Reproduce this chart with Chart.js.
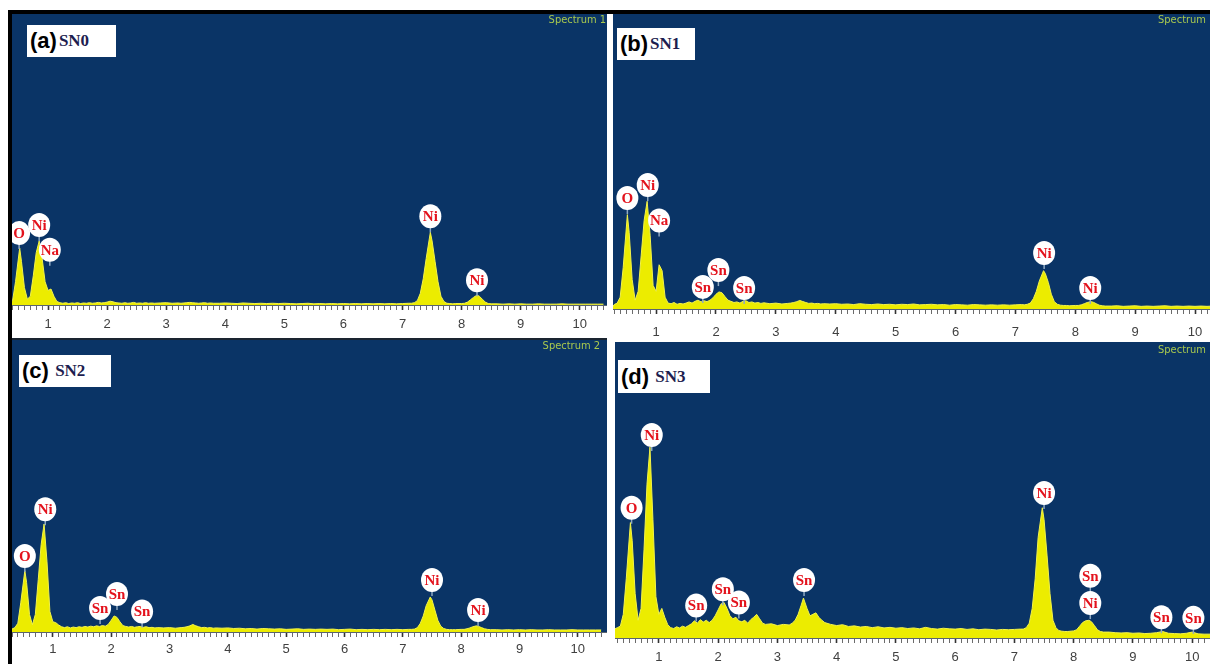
<!DOCTYPE html>
<html>
<head>
<meta charset="utf-8">
<title>EDX spectra SN0 - SN3</title>
<script src="https://cdn.jsdelivr.net/npm/chart.js@4.4.1/dist/chart.umd.min.js"></script>
<style>
  body { margin: 0; background: #fff; }
  #page { position: relative; width: 1210px; height: 664px; overflow: hidden; background: #fff; }
  canvas { position: absolute; display: block; }
  .bar { position: absolute; background: #000; }
  .tag { position: absolute; background: #fff; display: flex; align-items: center; box-sizing: border-box; padding-left: 3px; white-space: nowrap; }
  .tag b { font: bold 22px "Liberation Sans", Arial, sans-serif; color: #000; }
  .tag span { font: bold 17px "Liberation Serif", "Times New Roman", serif; color: #1d1d4f; margin-left: 2px; }
  .spec { position: absolute; width: 90px; text-align: right; font: 11px "Liberation Sans Narrow", "DejaVu Sans Condensed", sans-serif; color: #a9c94e; }
</style>
</head>
<body>
<div id="page">
  <canvas id="chartA" width="595" height="324" style="left:12px; top:14px"></canvas>
  <canvas id="chartB" width="597" height="328" style="left:613px; top:14px"></canvas>
  <canvas id="chartC" width="595" height="324" style="left:12px; top:340px"></canvas>
  <canvas id="chartD" width="595" height="322" style="left:615px; top:342px"></canvas>

  <div class="bar" style="left:8px; top:10px; width:1202px; height:4px"></div>
  <div class="bar" style="left:8px; top:10px; width:4px; height:654px"></div>
  <div class="bar" style="left:12px; top:338px; width:595px; height:2px; background:#1a2430"></div>

  <div class="tag" style="left:27px; top:25px; width:89px; height:32px"><b>(a)</b><span>SN0</span></div>
  <div class="tag" style="left:617px; top:28px; width:78px; height:32px"><b>(b)</b><span>SN1</span></div>
  <div class="tag" style="left:19px; top:355px; width:92px; height:32px"><b>(c)</b><span>&nbsp;SN2</span></div>
  <div class="tag" style="left:618px; top:360px; width:92px; height:33px"><b>(d)</b><span>&nbsp;SN3</span></div>

  <div class="spec" style="left:516px; top:13px">Spectrum 1</div>
  <div class="spec" style="left:1116px; top:13px">Spectrum</div>
  <div class="spec" style="left:510px; top:339px">Spectrum 2</div>
  <div class="spec" style="left:1116px; top:343px">Spectrum</div>
</div>

<script>
// energy axis (keV), shared by all four spectra
const energyKeV = [
  0.25, 0.30, 0.35, 0.40, 0.45,
  0.52, 0.55, 0.60, 0.65, 0.70, 0.75, 0.80, 0.85, 0.90, 0.95,
  1.00, 1.05, 1.10, 1.15, 1.20, 1.25, 1.30, 1.35, 1.40, 1.45, 1.50, 1.55, 1.60, 1.65, 1.70, 1.75, 1.80, 1.85, 1.90, 1.95,
  2.00, 2.05, 2.10, 2.15, 2.20, 2.25, 2.30, 2.35, 2.40, 2.45, 2.50, 2.55, 2.60, 2.65, 2.70, 2.75, 2.80,
  2.90, 3.00, 3.10, 3.20,
  3.25, 3.30, 3.35, 3.40, 3.44, 3.50, 3.55, 3.60, 3.65, 3.70, 3.75, 3.80,
  3.9, 4.0, 4.1, 4.2, 4.3, 4.4, 4.5, 4.6, 4.7, 4.8, 4.9, 5.0, 5.1, 5.2, 5.3, 5.4, 5.5, 5.6, 5.7, 5.8, 5.9, 6.0, 6.1, 6.2, 6.3, 6.4, 6.5, 6.6, 6.7, 6.8, 6.9, 7.0, 7.1,
  7.15, 7.20, 7.25, 7.30, 7.35, 7.40, 7.47, 7.50, 7.55, 7.60, 7.65, 7.70, 7.75, 7.80, 7.85,
  7.9, 8.0,
  8.05, 8.10, 8.15, 8.20, 8.26, 8.30, 8.35, 8.40, 8.45, 8.50,
  8.6, 8.7, 8.8, 8.9, 9.0, 9.1, 9.2, 9.3, 9.4, 9.5, 9.6, 9.7, 9.8, 9.9, 10.0, 10.1, 10.2, 10.3, 10.4
];

// counts, as % of the full-scale height of each panel
const countsSN0 = [
  0, 0, 0.5, 1.5, 8,
  19.6, 15, 6, 2, 3, 10, 18, 22, 16, 8,
  5, 5.5, 3, 1.2, 0.8, 0.6, 0.8, 0.5, 0.7, 0.6, 0.8, 0.5, 0.7, 0.6, 0.8, 0.6, 0.7, 0.9, 0.7, 0.8,
  1.0, 1.3, 1.1, 0.8, 0.7, 0.6, 0.8, 0.6, 0.7, 0.9, 0.6, 0.7, 0.6, 0.8, 0.6, 0.7, 0.6,
  0.7, 0.8, 0.6, 0.7,
  0.6, 0.7, 0.8, 0.9, 0.8, 0.7, 0.6, 0.7, 0.8, 0.6, 0.7, 0.6,
  0.6, 0.7, 0.6, 0.5, 0.7, 0.6, 0.5, 0.6, 0.5, 0.6, 0.5, 0.6, 0.5, 0.4, 0.5, 0.6, 0.4, 0.5, 0.4, 0.5, 0.4, 0.5, 0.4, 0.5, 0.4, 0.5, 0.4, 0.5, 0.4, 0.5, 0.4, 0.5, 0.6,
  0.6, 0.8, 1.5, 4, 9, 16, 25, 22, 15, 8, 3, 1.2, 0.6, 0.5, 0.4,
  0.5, 0.5,
  0.6, 1.0, 1.8, 2.6, 3.4, 3.0, 2.0, 1.0, 0.5, 0.4,
  0.4, 0.3, 0.4, 0.3, 0.4, 0.3, 0.3, 0.4, 0.3, 0.3, 0.3, 0.4, 0.3, 0.3, 0.3, 0.3, 0.3, 0.3, 0.3
];

const countsSN1 = [
  0, 1.5, 2, 4, 14,
  32, 26, 10, 3, 6, 18, 30, 36.5, 25, 8,
  6, 15, 13, 4, 2, 1.8, 2.2, 1.6, 1.9, 1.7, 2.0, 2.4, 2.0, 2.6, 3.0, 2.4, 2.8, 2.5, 3.0, 3.8,
  5.0, 5.8, 5.5, 4.2, 3.0, 2.6, 2.2, 2.4, 2.0, 2.6, 2.8, 2.2, 2.4, 2.0, 2.2, 1.9, 2.1,
  1.8, 2.0, 1.7, 1.9,
  2.0, 2.2, 2.5, 2.9, 2.6, 2.2, 1.9, 2.0, 1.8, 1.9, 1.7, 1.8,
  1.7, 1.8, 1.6, 1.7, 1.5, 1.8, 1.6, 1.5, 1.7, 1.5, 1.6, 1.4, 1.6, 1.5, 1.7, 1.4, 1.5, 1.6, 1.4, 1.5, 1.3, 1.5, 1.4, 1.3, 1.5, 1.4, 1.3, 1.4, 1.3, 1.4, 1.3, 1.4, 1.5,
  1.4, 1.6, 2.0, 3.5, 6, 9.5, 13, 12, 9, 5, 2.5, 1.6, 1.3, 1.2, 1.2,
  1.1, 1.2,
  1.2, 1.4, 1.8, 2.2, 2.5, 2.3, 1.8, 1.3, 1.1, 1.0,
  1.0, 1.1, 0.9, 1.0, 1.1, 0.9, 1.0, 0.9, 1.0, 1.1, 0.9, 1.0, 0.9, 1.0, 0.9, 1.0, 0.9, 1.0, 0.9
];

const countsSN2 = [
  0, 1, 1.5, 3, 10,
  21, 17, 6, 2.5, 6, 18, 30, 37, 24, 7,
  3.5, 3.2, 2.4, 1.8, 1.5, 1.8, 1.4, 1.7, 1.5, 1.8, 1.6, 1.9, 1.7, 2.0, 1.8, 2.1, 1.9, 2.2, 2.0, 2.6,
  4.0, 5.5, 5.0, 3.5, 2.2, 1.9, 1.7, 1.9, 1.6, 1.8, 1.9, 1.6, 1.8, 1.5, 1.6, 1.4, 1.5,
  1.4, 1.5, 1.3, 1.5,
  1.6, 1.8, 2.1, 2.6, 2.2, 1.8, 1.5, 1.6, 1.4, 1.5, 1.3, 1.4,
  1.3, 1.4, 1.2, 1.3, 1.1, 1.2, 1.0, 1.2, 1.1, 1.0, 1.1, 0.9, 1.0, 1.1, 0.9, 1.0, 0.9, 1.0, 0.9, 1.0, 0.8, 0.9, 1.0, 0.8, 0.9, 0.8, 0.9, 0.8, 0.9, 0.8, 0.9, 0.8, 0.9,
  0.9, 1.0, 1.5, 3.0, 5.5, 9, 12, 11, 7.5, 4, 2, 1.2, 0.9, 0.8, 0.8,
  0.8, 0.9,
  0.9, 1.1, 1.4, 1.8, 2.1, 1.9, 1.5, 1.1, 0.9, 0.8,
  0.8, 0.7, 0.8, 0.7, 0.8, 0.7, 0.8, 0.7, 0.7, 0.8, 0.7, 0.7, 0.7, 0.8, 0.7, 0.7, 0.7, 0.7, 0.7
];

const countsSN3 = [
  3, 3.5, 4, 8, 20,
  39, 33, 15, 6, 10, 30, 52, 64.5, 40, 14,
  8, 10, 7, 4.5, 3.5, 3.2, 3.8, 3.4, 4.0, 3.6, 4.2, 4.8, 5.8, 5.0, 6.2, 5.4, 6.0, 5.2, 6.0, 7.5,
  9.5, 11.5, 12, 10, 7.5, 6.5, 7.0, 5.8, 5.5, 6.0, 5.0, 6.2, 7.0, 8.0, 6.5, 5.0, 4.6,
  4.8, 4.2, 4.6, 4.4,
  5.0, 6.0, 8.0, 11.0, 13.5, 10.0, 7.5, 8.0, 8.5, 7.0, 6.0, 5.2,
  4.6, 4.2, 4.5, 3.9, 4.1, 3.7, 3.9, 3.5, 3.8, 3.4, 3.6, 3.3, 3.5, 3.2, 3.4, 3.1, 3.6, 3.2, 3.0, 3.3, 3.1, 3.0, 3.2, 2.9, 3.1, 2.8, 3.0, 2.9, 2.7, 2.9, 2.8, 2.9, 3.0,
  3.0, 3.5, 5, 10, 20, 34, 44, 40, 28, 15, 6, 3.5, 2.5, 2.3, 2.2,
  2.2, 2.4,
  2.8, 4, 5.2, 5.8, 6, 5.5, 4.2, 2.8, 2.2, 2.0,
  2.0, 1.8, 1.7, 1.8, 1.6, 1.7, 1.5, 1.6, 1.8, 2.2, 1.6, 1.5, 1.4, 1.6, 2.0, 1.4, 1.3, 1.3, 1.2
];

// peak labels: element, energy (keV), label level (% of full scale)
const labelsSN0 = ['O', 'Ni', 'Na', 'Ni', 'Ni'];
const labelKeVSN0 = [0.51, 0.85, 1.03, 7.47, 8.26];
const labelLevelSN0 = [24.7, 27.5, 19, 30.5, 8.5];

const labelsSN1 = ['O', 'Ni', 'Na', 'Sn', 'Sn', 'Sn', 'Ni', 'Ni'];
const labelKeVSN1 = [0.52, 0.86, 1.05, 1.78, 2.04, 2.47, 7.48, 8.25];
const labelLevelSN1 = [37.6, 42, 30, 7.5, 13.2, 7.1, 19, 7.1];

const labelsSN2 = ['O', 'Ni', 'Sn', 'Sn', 'Sn', 'Ni', 'Ni'];
const labelKeVSN2 = [0.52, 0.87, 1.81, 2.10, 2.53, 7.50, 8.29];
const labelLevelSN2 = [26, 42, 8.2, 13, 7, 17.8, 7.5];

const labelsSN3 = ['O', 'Ni', 'Sn', 'Sn', 'Sn', 'Sn', 'Ni', 'Sn', 'Ni', 'Sn', 'Sn'];
const labelKeVSN3 = [0.54, 0.88, 1.63, 2.08, 2.35, 3.45, 7.50, 8.28, 8.28, 9.48, 10.02];
const labelLevelSN3 = [44, 68.6, 11, 16.5, 12, 19.6, 49, 21, 11.8, 7, 6.8];

const panelBackground = {
  id: 'panelBackground',
  beforeDraw(chart) {
    const { ctx, chartArea: a } = chart;
    ctx.save();
    ctx.fillStyle = '#ffffff';
    ctx.fillRect(0, 0, chart.width, chart.height);
    ctx.fillStyle = '#0a3466';
    ctx.fillRect(a.left, a.top, a.right - a.left, a.bottom - a.top);
    ctx.restore();
  }
};

function peakLabels(names, energies, levels) {
  return {
    id: 'peakLabels',
    afterDatasetsDraw(chart) {
      const { ctx, scales: { x, y } } = chart;
      ctx.save();
      names.forEach((name, i) => {
        const px = x.getPixelForValue(energies[i]);
        const py = y.getPixelForValue(levels[i]);
        ctx.strokeStyle = '#8fa9c2';
        ctx.lineWidth = 1.5;
        ctx.beginPath();
        ctx.moveTo(px, py + 10);
        ctx.lineTo(px, py + 16);
        ctx.stroke();
        ctx.fillStyle = '#ffffff';
        ctx.beginPath();
        ctx.ellipse(px, py, 11, 12, 0, 0, Math.PI * 2);
        ctx.fill();
        ctx.fillStyle = '#e3121c';
        ctx.font = 'bold 15px "Liberation Serif", "Times New Roman", serif';
        ctx.textAlign = 'center';
        ctx.textBaseline = 'middle';
        ctx.fillText(name, px, py + 1);
      });
      ctx.restore();
    }
  };
}

function isWhole(v) {
  return Math.abs(v - Math.round(v)) < 1e-6;
}

function drawSpectrum(canvasId, counts, names, energies, levels, panel) {
  const points = energyKeV.map((e, i) => ({ x: e, y: counts[i] }));
  return new Chart(document.getElementById(canvasId), {
    type: 'line',
    data: {
      datasets: [{
        data: points,
        fill: 'origin',
        backgroundColor: '#ecec00',
        borderColor: '#f2f24a',
        borderWidth: 1,
        pointRadius: 0,
        tension: 0
      }]
    },
    options: {
      responsive: false,
      animation: false,
      events: [],
      layout: { padding: 0, autoPadding: false },
      scales: {
        x: {
          type: 'linear',
          min: panel.xMin,
          max: panel.xMax,
          // panel fills the full width, the axis strip has a fixed height
          afterFit: (scale) => {
            scale.height = panel.axisHeight;
            scale.paddingLeft = 0;
            scale.paddingRight = 0;
          },
          border: { display: true, color: '#5a6470', width: 1 },
          grid: {
            drawOnChartArea: false,
            drawTicks: true,
            tickLength: 5,
            tickColor: (c) => (c.tick && isWhole(c.tick.value)) ? '#333' : '#6b6b6b',
            tickWidth: (c) => (c.tick && isWhole(c.tick.value)) ? 1.6 : 1
          },
          ticks: {
            stepSize: 0.1,
            includeBounds: false,
            autoSkip: false,
            maxTicksLimit: 200,
            maxRotation: 0,
            padding: panel.labelPad,
            color: '#404040',
            font: { family: '"Liberation Sans", Arial, sans-serif', size: 13 },
            callback: (v) => isWhole(v) ? String(Math.round(v)) : ''
          }
        },
        y: { display: false, min: 0, max: 100 }
      },
      plugins: {
        legend: { display: false },
        tooltip: { enabled: false }
      }
    },
    plugins: [panelBackground, peakLabels(names, energies, levels)]
  });
}

drawSpectrum('chartA', countsSN0, labelsSN0, labelKeVSN0, labelLevelSN0, { xMin: 0.39, xMax: 10.46, axisHeight: 33, labelPad: 7 });
drawSpectrum('chartB', countsSN1, labelsSN1, labelKeVSN1, labelLevelSN1, { xMin: 0.28, xMax: 10.25, axisHeight: 33, labelPad: 11 });
drawSpectrum('chartC', countsSN2, labelsSN2, labelKeVSN2, labelLevelSN2, { xMin: 0.30, xMax: 10.50, axisHeight: 32, labelPad: 5 });
drawSpectrum('chartD', countsSN3, labelsSN3, labelKeVSN3, labelLevelSN3, { xMin: 0.26, xMax: 10.30, axisHeight: 26, labelPad: 7 });
</script>
</body>
</html>
